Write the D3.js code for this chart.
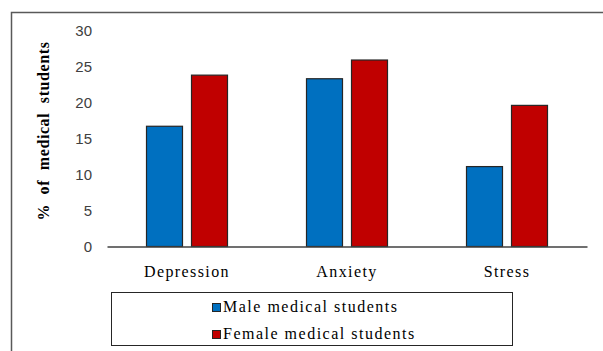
<!DOCTYPE html>
<html>
<head>
<meta charset="utf-8">
<script src="https://cdn.jsdelivr.net/npm/d3@7"></script>
<style>
  html, body { margin: 0; padding: 0; background: #fff; }
  svg { display: block; }
</style>
</head>
<body>
<svg id="chart" width="603" height="351"></svg>
<script>
// Prevalence by sex, per condition
const categories = ["Depression", "Anxiety", "Stress"];
const seriesNames = ["Male medical students", "Female medical students"];
const maleValues = [16.7, 23.3, 11.1];
const femaleValues = [23.8, 25.9, 19.6];
const yTicks = [0, 5, 10, 15, 20, 25, 30];
const colors = ["#0070C0", "#C00000"];

const SERIF = '"Liberation Serif", "Times New Roman", serif';
const SANS = '"Liberation Sans", Arial, sans-serif';

const svg = d3.select("#chart");

// outer frame (continues past the right and bottom edges)
svg.append("rect")
  .attr("x", 11.5).attr("y", 12.5)
  .attr("width", 640).attr("height", 400)
  .attr("fill", "none")
  .attr("stroke", "#595959")
  .attr("stroke-width", 1.5);

const plot = { left: 107, right: 587, top: 30.5, bottom: 246.5 };

const x = d3.scaleBand().domain(categories).range([plot.left, plot.right]);
const x1 = d3.scaleBand().domain(d3.range(seriesNames.length))
  .range([x.bandwidth() / 2 - 40.5, x.bandwidth() / 2 + 40.5])
  .paddingInner(0.2);
const y = d3.scaleLinear().domain([0, 30]).range([plot.bottom, plot.top]);

// y axis: labels only
const yAxis = d3.axisLeft(y).tickValues(yTicks).tickSize(0).tickPadding(0);
const yg = svg.append("g").attr("transform", "translate(92,0)").call(yAxis);
yg.select(".domain").remove();
yg.selectAll("text")
  .style("font-family", SANS)
  .style("font-size", "15px")
  .attr("fill", "#404040")
  .attr("dy", "0.36em");

// bars
const seriesValues = [maleValues, femaleValues];
const groups = svg.append("g").selectAll("g")
  .data(categories)
  .join("g")
  .attr("transform", d => `translate(${x(d)},0)`);

groups.selectAll("rect")
  .data((d, i) => seriesValues.map((vals, s) => ({ s, v: vals[i] })))
  .join("rect")
  .attr("x", d => x1(d.s))
  .attr("y", d => y(d.v))
  .attr("width", x1.bandwidth())
  .attr("height", d => y(0) - y(d.v))
  .attr("fill", d => colors[d.s])
  .attr("stroke", "#262626")
  .attr("stroke-width", 1.2);

// baseline and category labels
const xAxis = d3.axisBottom(x).tickSize(0).tickPadding(0);
const xg = svg.append("g").attr("transform", `translate(0,${plot.bottom})`).call(xAxis);
xg.select(".domain").attr("stroke", "#404040").attr("stroke-width", 1.3);
xg.selectAll("text")
  .style("font-family", SERIF)
  .style("font-size", "16px")
  .style("letter-spacing", "1.4px")
  .attr("fill", "#000")
  .attr("dy", "0")
  .attr("y", 30);

// y title
svg.append("text")
  .attr("transform", "translate(49,131) rotate(-90)")
  .attr("text-anchor", "middle")
  .style("font-family", SERIF)
  .style("font-weight", "bold")
  .style("font-size", "16px")
  .style("letter-spacing", "0.6px")
  .style("word-spacing", "5px")
  .text("% of medical students");

// legend
const legend = svg.append("g");
legend.append("rect")
  .attr("x", 111.5).attr("y", 292.5)
  .attr("width", 401).attr("height", 53)
  .attr("fill", "#fff")
  .attr("stroke", "#262626")
  .attr("stroke-width", 1);

const items = legend.selectAll("g.item")
  .data(seriesNames)
  .join("g")
  .attr("class", "item")
  .attr("transform", (d, i) => `translate(212,${303 + i * 27})`);

items.append("rect")
  .attr("x", 0.5).attr("y", 0.5)
  .attr("width", 8).attr("height", 8)
  .attr("fill", (d, i) => colors[i])
  .attr("stroke", "#262626")
  .attr("stroke-width", 1);

items.append("text")
  .attr("x", 11)
  .attr("y", 9)
  .style("font-family", SERIF)
  .style("font-size", "16px")
  .style("letter-spacing", "1.5px")
  .attr("fill", "#000")
  .text(d => d);
</script>
</body>
</html>
